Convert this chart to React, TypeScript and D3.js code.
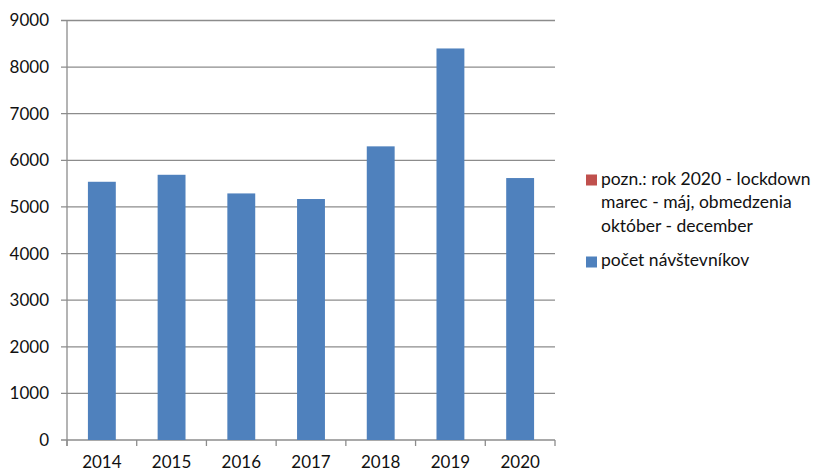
import React from "react";
import * as d3 from "d3";

const years = ["2014", "2015", "2016", "2017", "2018", "2019", "2020"];
const visitors = [5540, 5690, 5290, 5170, 6300, 8400, 5620];
const yTicks = [0, 1000, 2000, 3000, 4000, 5000, 6000, 7000, 8000, 9000];
const legendNote = ["pozn.: rok 2020 - lockdown", "marec - máj, obmedzenia", "október - december"];
const legendSeries = "počet návštevníkov";

const W = 815, H = 471;
const left = 67, right = 555, top = 20.5, bottom = 440;
const FONT = "Lato, 'Open Sans', sans-serif";

export default function App() {
  const x = d3.scaleBand().domain(years).range([left, right]).paddingInner(0.6).paddingOuter(0.3);
  const xb = d3.scaleBand().domain(years).range([left, right]);
  const y = d3.scaleLinear().domain([0, 9000]).range([bottom, top]);
  return (
    <svg width={W} height={H} style={{ position: "absolute", left: 0, top: 0, background: "#fff" }}>
      {yTicks.map((t) => (
        <g key={t}>
          <line x1={left - 6} x2={right} y1={y(t)} y2={y(t)} stroke="#8c8c8c" strokeWidth={1.3} />
          <text x={49} y={y(t)} dy="0.35em" textAnchor="end" fontFamily={FONT} fontSize={17} fill="#111">{t}</text>
        </g>
      ))}
      {years.map((yr, i) => (
        <rect key={yr} x={x(yr)} y={y(visitors[i])} width={x.bandwidth()} height={bottom - y(visitors[i])} fill="#4f81bd" />
      ))}
      <line x1={left} x2={left} y1={top} y2={bottom + 6} stroke="#8c8c8c" strokeWidth={1.3} />
      {[...years.map((yr) => xb(yr) as number), right].map((v, i) => (
        <line key={i} x1={v} x2={v} y1={bottom} y2={bottom + 6} stroke="#8c8c8c" strokeWidth={1.3} />
      ))}
      {years.map((yr) => (
        <text key={yr} x={(xb(yr) as number) + xb.bandwidth() / 2} y={468} textAnchor="middle" fontFamily={FONT} fontSize={17} fill="#111">{yr}</text>
      ))}
      <rect x={586} y={174.5} width={11} height={11} fill="#c0504d" />
      {legendNote.map((s, i) => (
        <text key={i} x={601} y={185 + i * 23.3} fontFamily={FONT} fontSize={17.5} fill="#111">{s}</text>
      ))}
      <rect x={586} y={256.5} width={11} height={11} fill="#4f81bd" />
      <text x={601} y={266} fontFamily={FONT} fontSize={17.5} fill="#111">{legendSeries}</text>
    </svg>
  );
}
